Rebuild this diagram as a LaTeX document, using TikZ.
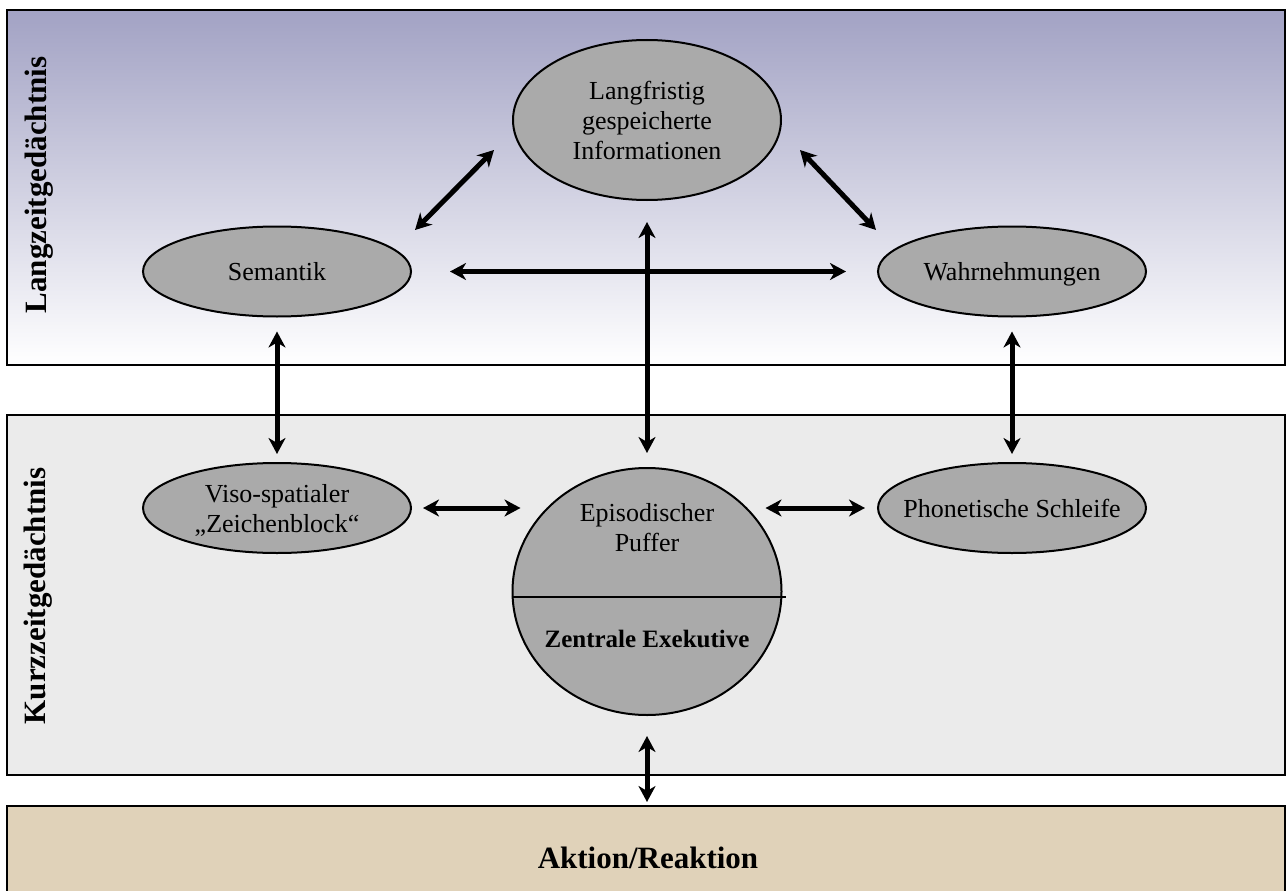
\documentclass[tikz,border=0pt]{standalone}
\usepackage{fontspec}
\setmainfont{Liberation Serif}
\usetikzlibrary{calc,shapes.geometric,arrows.meta}
\definecolor{ltmtop}{RGB}{162,162,196}
\definecolor{stmfill}{RGB}{235,235,235}
\definecolor{actfill}{RGB}{224,210,185}
\definecolor{memgray}{RGB}{170,170,170}

\begin{document}
\begin{tikzpicture}[x=1pt,y=-1pt,
  membox/.style={draw,line width=2pt,minimum width=1278pt,inner sep=0pt},
  memnode/.style={ellipse,draw,line width=2pt,fill=memgray,minimum width=268pt,minimum height=90pt,inner sep=0pt,text depth=0pt,align=center,font=\fontsize{26}{30}\selectfont},
  boxlabel/.style={font=\fontsize{31}{36}\selectfont\bfseries},
  link/.style={{Stealth[length=16pt,width=17pt,inset=5pt]}-{Stealth[length=16pt,width=17pt,inset=5pt]},line width=5pt}]
\useasboundingbox (0,0) rectangle (1286,891);

\node[membox,minimum height=355pt,top color=ltmtop,bottom color=white] (ltm) at (646,187.5) {};
\node[membox,minimum height=360pt,fill=stmfill] (stm) at (646,595) {};
\node[membox,minimum height=100pt,fill=actfill] (act) at (646,856) {};

\node[boxlabel,rotate=90] (ltmlabel) at (39,185) {Langzeitgedächtnis};
\node[boxlabel,rotate=90] (stmlabel) at (38,596) {Kurzzeitgedächtnis};
\node[boxlabel] (actlabel) at (648,858) {Aktion/Reaktion};

\node[memnode,minimum height=160pt] (lang) at (647,120) {Langfristig\\gespeicherte\\Informationen};
\node[memnode] (sem) at (277,271.5) {Semantik};
\node[memnode] (wahr) at (1012,271.5) {Wahrnehmungen};
\node[memnode] (viso) at (277,508) {Viso-spatialer\\„Zeichenblock“};
\node[memnode,inner xsep=-14pt] (phon) at (1012,508) {Phonetische Schleife};

\node[ellipse,draw,line width=2pt,fill=memgray,minimum width=269pt,minimum height=247pt] (epi) at (647,591.5) {};
\draw[line width=2pt] ([yshift=-5.5pt]epi.west) -- ([yshift=-5.5pt,xshift=3pt]epi.east);
\node[align=center,font=\fontsize{26}{30}\selectfont] (epitop) at (647,528) {Episodischer\\Puffer};
\node[font=\fontsize{25}{30}\selectfont\bfseries] (zentral) at (647,638.5) {Zentrale Exekutive};

\draw[link] ($(sem.east)+(3,-41.5)$) -- ($(lang.west)+(-18,30)$);
\draw[link] ($(lang.east)+(18,30)$) -- ($(wahr.west)+(-1,-41.5)$);
\draw[link,shorten <=38pt,shorten >=31pt] (sem.east) -- (wahr.west);
\draw[link,shorten <=21pt,shorten >=14pt] (lang.south) -- (epi.north);
\draw[link,shorten <=14pt,shorten >=8pt] (sem.south) -- (viso.north);
\draw[link,shorten <=14pt,shorten >=8pt] (wahr.south) -- (phon.north);
\draw[link] ($(viso.east)+(11,0)$) -- ($(viso.east -| epi.west)+(9,0)$);
\draw[link] ($(phon.west -| epi.east)+(-17,0)$) -- ($(phon.west)+(-12,0)$);
\draw[link,shorten <=20pt,shorten >=3pt] (epi.south) -- (epi.south |- act.north);
\end{tikzpicture}
\end{document}
